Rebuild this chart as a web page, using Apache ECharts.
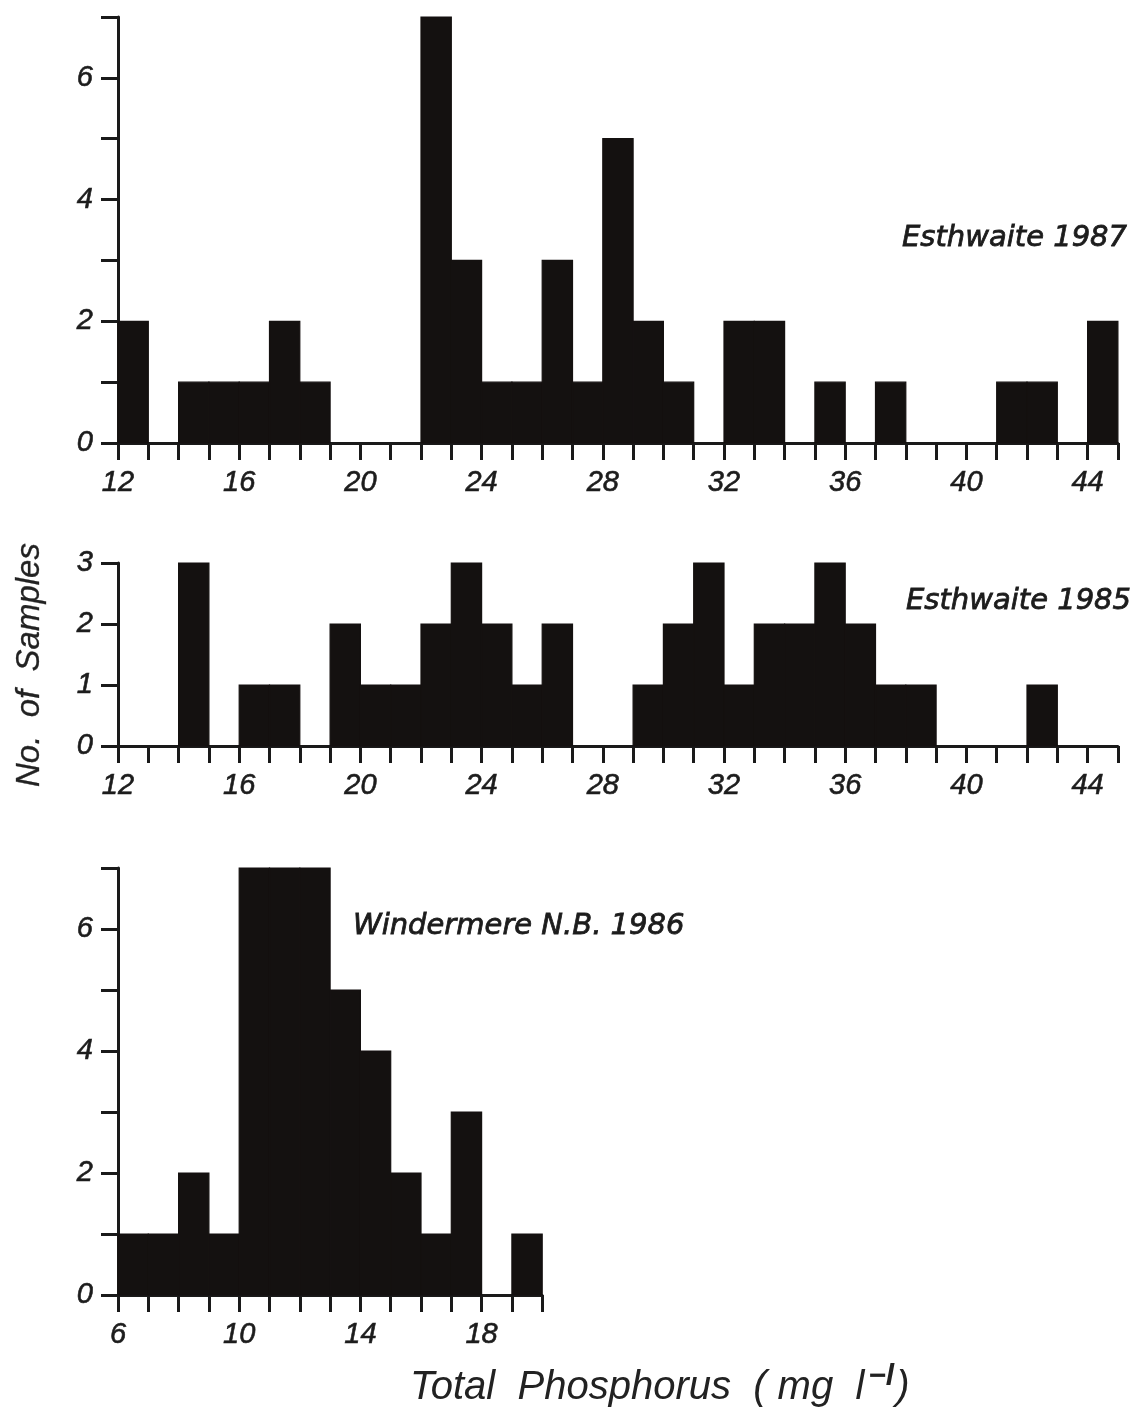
<!DOCTYPE html>
<html>
<head>
<meta charset="utf-8">
<script src="https://cdn.jsdelivr.net/npm/echarts@6/dist/echarts.min.js"></script>
<style>
html,body{margin:0;padding:0;background:#ffffff;}
#chart{width:1140px;height:1411px;}
</style>
</head>
<body>
<div id="chart"></div>
<script>
// ---- Data (bins are 1 mg/l wide; value = bin start) ----
const binStarts1987 = [12,13,14,15,16,17,18,19,20,21,22,23,24,25,26,27,28,29,30,31,32,33,34,35,36,37,38,39,40,41,42,43,44];
const counts1987    = [ 2, 0, 1, 1, 1, 2, 1, 0, 0, 0, 7, 3, 1, 1, 3, 1, 5, 2, 1, 0, 2, 2, 0, 1, 0, 1, 0, 0, 0, 1, 1, 0, 2];

const binStarts1985 = [12,13,14,15,16,17,18,19,20,21,22,23,24,25,26,27,28,29,30,31,32,33,34,35,36,37,38,39,40,41,42,43,44];
const counts1985    = [ 0, 0, 3, 0, 1, 1, 0, 2, 1, 1, 2, 3, 2, 1, 2, 0, 0, 1, 2, 3, 1, 2, 2, 3, 2, 1, 1, 0, 0, 0, 1, 0, 0];

const binStartsWind = [6,7,8,9,10,11,12,13,14,15,16,17,18,19];
const countsWind    = [1,1,2,1, 7, 7, 7, 5, 4, 2, 1, 3, 0, 1];

const xLabels1987 = [12,16,20,24,28,32,36,40,44];
const xLabels1985 = [12,16,20,24,28,32,36,40,44];
const xLabelsWind = [6,10,14,18];
const yLabels1987 = [0,2,4,6];
const yLabels1985 = [0,1,2,3];
const yLabelsWind = [0,2,4,6];

const titles = ['Esthwaite 1987', 'Esthwaite 1985', 'Windermere N.B. 1986'];
const yTitle = 'No.  of  Samples';
const xTitleMain = 'Total  Phosphorus  ( mg  l';
const xTitleSup = '−l';
const xTitleEnd = ')';

// ---- Styling ----
const INK = '#141110';
const AXIS_INK = '#1a1a1a';
const TEXT_INK = '#1c1c1c';
const BIN_WIDTH = 1;

function toData(starts, counts){ return starts.map((s,i)=>[s, counts[i]]); }

function renderBar(params, api){
  const x0 = api.value(0), v = api.value(1);
  if (!v) return null;
  const pTop = api.coord([x0, v]);
  const pBot = api.coord([x0 + BIN_WIDTH, 0]);
  return {
    type: 'rect',
    shape: { x: pTop[0], y: pTop[1], width: pBot[0]-pTop[0], height: pBot[1]-pTop[1] },
    style: { fill: INK, stroke: INK, lineWidth: 1.2 }
  };
}

const labelFont = { fontFamily: 'Liberation Sans', fontStyle: 'italic', fontSize: 29, color: TEXT_INK,
  textBorderColor: TEXT_INK, textBorderWidth: 0.6 };

function xAxis(gridIndex, min, max, labels){
  return {
    type: 'value', gridIndex, min, max, interval: 1,
    axisLine: { show: true, onZero: false, lineStyle: { color: AXIS_INK, width: 3 } },
    axisTick: { show: true, length: 17, lineStyle: { color: AXIS_INK, width: 3 } },
    splitLine: { show: false },
    axisLabel: Object.assign({ margin: 25, showMinLabel: true, showMaxLabel: true,
      formatter: v => labels.indexOf(v) >= 0 ? String(v) : '' }, labelFont)
  };
}
function yAxis(gridIndex, max, labels){
  return {
    type: 'value', gridIndex, min: 0, max, interval: 1,
    axisLine: { show: true, lineStyle: { color: AXIS_INK, width: 3 } },
    axisTick: { show: true, length: 17, lineStyle: { color: AXIS_INK, width: 3 } },
    splitLine: { show: false },
    axisLabel: Object.assign({ margin: 25, showMinLabel: true, showMaxLabel: true,
      formatter: v => labels.indexOf(v) >= 0 ? String(v) : '' }, labelFont)
  };
}

const PX_PER_UNIT = 30.3;
const chart = echarts.init(document.getElementById('chart'), null, { renderer: 'canvas' });

const annoStyle = { font: 'oblique 29px "DejaVu Sans"', fill: TEXT_INK, stroke: TEXT_INK, lineWidth: 0.8 };

const option = {
  animation: false,
  backgroundColor: '#ffffff',
  grid: [
    { left: 118, top: 17,  width: 33*PX_PER_UNIT, height: 426 },
    { left: 118, top: 563, width: 33*PX_PER_UNIT, height: 183 },
    { left: 118, top: 868, width: 14*PX_PER_UNIT, height: 427 }
  ],
  xAxis: [
    xAxis(0, 12, 45, xLabels1987),
    xAxis(1, 12, 45, xLabels1985),
    xAxis(2, 6, 20, xLabelsWind)
  ],
  yAxis: [
    yAxis(0, 7, yLabels1987),
    yAxis(1, 3, yLabels1985),
    yAxis(2, 7, yLabelsWind)
  ],
  series: [
    { type: 'custom', xAxisIndex: 0, yAxisIndex: 0, renderItem: renderBar, data: toData(binStarts1987, counts1987), z: 1 },
    { type: 'custom', xAxisIndex: 1, yAxisIndex: 1, renderItem: renderBar, data: toData(binStarts1985, counts1985), z: 1 },
    { type: 'custom', xAxisIndex: 2, yAxisIndex: 2, renderItem: renderBar, data: toData(binStartsWind, countsWind), z: 1 }
  ],
  graphic: [
    { type: 'text', x: 1127, y: 238, style: Object.assign({ text: titles[0], align: 'right', verticalAlign: 'middle' }, annoStyle) },
    { type: 'text', x: 1131, y: 601, style: Object.assign({ text: titles[1], align: 'right', verticalAlign: 'middle' }, annoStyle) },
    { type: 'text', x: 353, y: 926, style: Object.assign({ text: titles[2], align: 'left', verticalAlign: 'middle' }, annoStyle) },
    { type: 'text', x: 30, y: 665, rotation: Math.PI/2, style: { text: yTitle, align: 'center', verticalAlign: 'middle',
      font: 'italic 33px "Liberation Sans"', fill: '#222', stroke: '#222', lineWidth: 0.3 } },
    { type: 'text', x: 410, y: 1385, style: {
      text: '{n|' + xTitleMain + '}{s|' + xTitleSup + '}{n|' + xTitleEnd + '}',
      align: 'left', verticalAlign: 'middle',
      rich: {
        n: { fontFamily: 'Liberation Sans', fontStyle: 'italic', fontSize: 40, fill: '#222', verticalAlign: 'bottom' },
        s: { fontFamily: 'Liberation Sans', fontStyle: 'italic', fontWeight: 'bold', fontSize: 30, fill: '#222', verticalAlign: 'top', padding: [0,2,16,4] }
      }
    } }
  ]
};
chart.setOption(option);
</script>
</body>
</html>
